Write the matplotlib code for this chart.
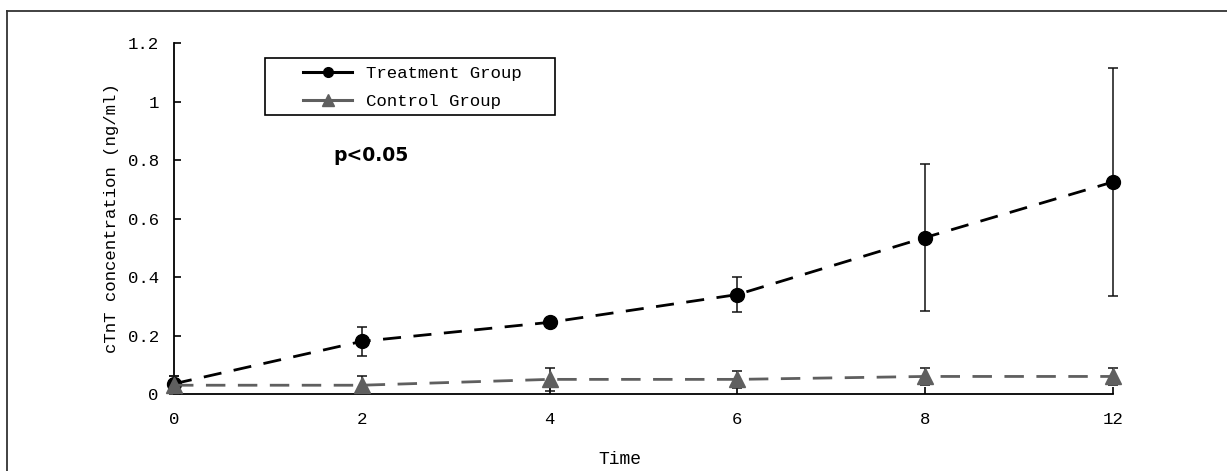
import matplotlib
matplotlib.use("Agg")
import matplotlib.pyplot as plt
from matplotlib.lines import Line2D
from matplotlib.patches import Rectangle
import numpy as np

time_labels = ["0", "2", "4", "6", "8", "12"]
treat_mean = [0.035, 0.18, 0.245, 0.34, 0.535, 0.725]
treat_err = [0.025, 0.05, 0.01, 0.06, 0.25, 0.39]
ctrl_mean = [0.03, 0.03, 0.05, 0.05, 0.06, 0.06]
ctrl_err = [0.03, 0.03, 0.04, 0.03, 0.03, 0.03]
y_ticks = [0, 0.2, 0.4, 0.6, 0.8, 1.0, 1.2]
y_tick_labels = ["0", "0.2", "0.4", "0.6", "0.8", "1", "1.2"]

W, H = 1227, 471
fig = plt.figure(figsize=(W / 100, H / 100), dpi=100)
ax = fig.add_axes([174 / W, 1 - 394 / H, (1113 - 174) / W, (394 - 43) / H])

mono = "Liberation Mono"
x = np.arange(len(time_labels))
gray = "#5f5f5f"

for mean, err, col, mk, ms, dsh, z in [
        (treat_mean, treat_err, "black", "o", 10, (6.5, 4.5), 3),
        (ctrl_mean, ctrl_err, gray, "^", 11, (7, 4.5), 4)]:
    line, caps, bars = ax.errorbar(x, mean, yerr=err, color=col, ecolor="#111111", elinewidth=1.1,
                                   capsize=3.6, capthick=1.1, lw=2.0, dashes=dsh, marker=mk, ms=ms,
                                   mfc=col, mec=col, zorder=z)
    line.set_clip_on(False)
    for c in caps:
        c.set_clip_on(False)
    for b in bars:
        b.set_clip_on(False)

ax.set_xlim(0, 5)
ax.set_ylim(0, 1.2)
ax.set_xticks(x)
ax.set_xticklabels(time_labels, fontfamily=mono, fontsize=12.5)
ax.set_yticks(y_ticks)
ax.set_yticklabels(y_tick_labels, fontfamily=mono, fontsize=12.5)
ax.tick_params(axis="both", direction="in", length=5, width=1.2, colors="black")
ax.tick_params(axis="y", pad=11)
ax.tick_params(axis="x", pad=13)
for s in ["top", "right"]:
    ax.spines[s].set_visible(False)
for s in ["left", "bottom"]:
    ax.spines[s].set_linewidth(1.3)

ax.set_xlabel("Time", fontfamily=mono, fontsize=13)
ax.xaxis.set_label_coords((620 - 174) / (1113 - 174), -(451 - 394) / (394 - 43))
ax.set_ylabel("cTnT concentration (ng/ml)", fontfamily=mono, fontsize=12.5)
ax.yaxis.set_label_coords(-(174 - 119) / (1113 - 174), 0.5)

# legend box
ax.add_patch(Rectangle(((265 - 174) / 939, (394 - 115) / 351), (555 - 265) / 939, (115 - 58) / 351,
                       transform=ax.transAxes, fill=False, ec="black", lw=1.2, clip_on=False, zorder=5))
handles = [Line2D([], [], color="black", lw=2.2, marker="o", ms=7),
           Line2D([], [], color=gray, lw=2.2, marker="^", ms=9)]
ax.legend(handles, ["Treatment Group", "Control Group"], loc="upper left",
          bbox_to_anchor=((300 - 174) / 939, (394 - 62) / 351), frameon=False,
          prop={"family": mono, "size": 12.5}, handlelength=2.8, handletextpad=0.8,
          labelspacing=0.75, borderaxespad=0, borderpad=0.2)

ax.text((333 - 174) / 939, (394 - 155) / 351, "p<0.05", transform=ax.transAxes,
        fontfamily="DejaVu Sans", fontweight="bold", fontsize=13.5, va="center", ha="left")

# figure frame (only left and top edges visible)
fig.add_artist(Line2D([7 / W, 7 / W], [0, 1 - 11 / H], transform=fig.transFigure,
                      color="#333333", lw=1.3))
fig.add_artist(Line2D([7 / W, 1], [1 - 11 / H, 1 - 11 / H], transform=fig.transFigure,
                      color="#333333", lw=1.3))

fig.savefig("out.png", dpi=100)
